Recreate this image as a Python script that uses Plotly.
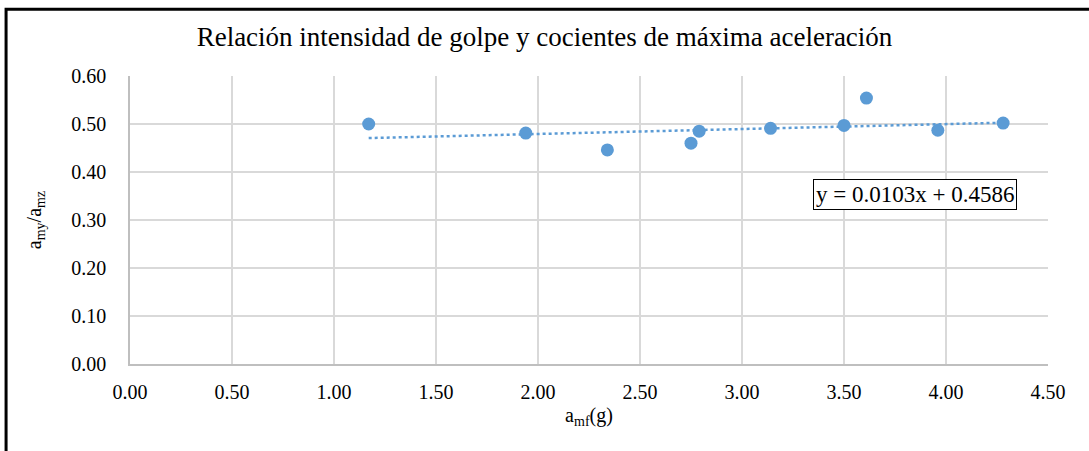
import plotly.graph_objects as go

# valores
amf = [1.17, 1.94, 2.34, 2.75, 2.79, 3.14, 3.50, 3.61, 3.96, 4.28]
cociente = [0.500, 0.481, 0.446, 0.460, 0.485, 0.491, 0.497, 0.554, 0.487, 0.502]

# linea de tendencia segun la ecuacion del grafico
pendiente = 0.0103
intercepto = 0.4586
x_tend = [min(amf), max(amf)]
y_tend = [pendiente * v + intercepto for v in x_tend]

azul = "#5B9BD5"
fuente = "Liberation Serif"

fig = go.Figure()
fig.add_trace(go.Scatter(x=x_tend, y=y_tend, mode="lines",
                         line=dict(color=azul, width=2.5, dash="dot"),
                         showlegend=False, hoverinfo="skip"))
fig.add_trace(go.Scatter(x=amf, y=cociente, mode="markers",
                         marker=dict(color=azul, size=13),
                         showlegend=False))

fig.update_layout(
    width=1089, height=451,
    margin=dict(l=130, r=41, t=76, b=87),
    paper_bgcolor="white", plot_bgcolor="white",
    font=dict(family=fuente, color="black", size=20),
    title=dict(text="Relación intensidad de golpe y cocientes de máxima aceleración",
               x=0.5, xanchor="center", y=0.918, yanchor="middle",
               font=dict(size=27, family=fuente, color="black")),
    xaxis=dict(range=[0, 4.5], dtick=0.5, tickformat=".2f",
               showgrid=True, gridcolor="#d9d9d9", gridwidth=1.5,
               showline=True, linecolor="#bfbfbf", linewidth=1.5,
               zeroline=False, ticks="", ticklabelstandoff=9,
               title=dict(text="a<sub>mf</sub>(g)", standoff=6,
                          font=dict(size=20))),
    yaxis=dict(range=[0, 0.6], dtick=0.1, tickformat=".2f",
               showgrid=True, gridcolor="#d9d9d9", gridwidth=1.5,
               showline=True, linecolor="#bfbfbf", linewidth=1.5,
               zeroline=False, ticks="", ticklabelstandoff=18,
               title=dict(text="a<sub>my</sub>/a<sub>mz</sub>", standoff=24,
                          font=dict(size=20))),
)

fig.add_annotation(x=3.85, y=0.354, xref="x", yref="y",
                   text="y = 0.0103x + 0.4586", showarrow=False,
                   font=dict(size=23, family=fuente, color="black"),
                   bordercolor="black", borderwidth=1, borderpad=2,
                   bgcolor="white")

# marco exterior
fig.add_shape(type="rect", xref="paper", yref="paper",
              x0=-0.135, x1=2, y0=-1, y1=1.232,
              line=dict(color="black", width=3))

# sin margen en la pagina para que el marco quede en su sitio
fig.write_html("out.html", config={"displayModeBar": False},
               post_script="document.body.style.margin='0';")
